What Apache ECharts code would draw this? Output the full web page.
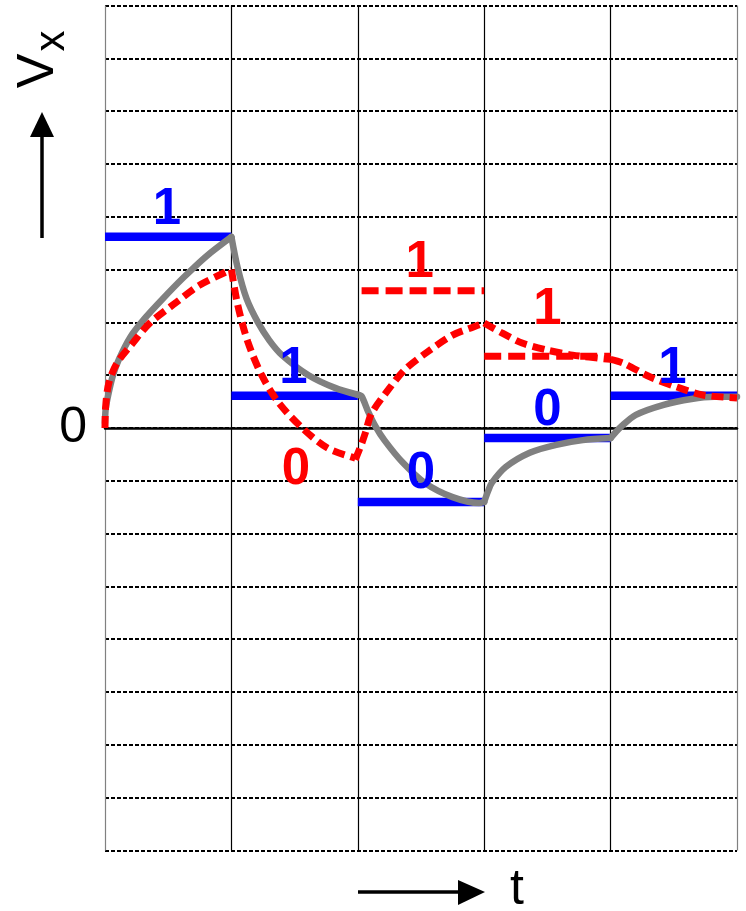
<!DOCTYPE html>
<html lang="en">
<head>
    <meta charset="UTF-8">
    <title>Vx</title>
</head>
<body style="margin:0">
    <div id="chart" style="width: 746px; height: 911px"></div>
    <script src="https://cdn.jsdelivr.net/npm/echarts@6/dist/echarts.min.js"></script>
    <script>
        // bit periods (x = bit index) and drive levels
        const blueLevels = [
            [[0, 3.62], [1, 3.62]],
            [[1, 0.61], [2, 0.61]],
            [[2, -1.4], [3, -1.4]],
            [[3, -0.19], [4, -0.19]],
            [[4, 0.61], [5, 0.61]]
        ];
        const redLevels = [
            [[2.03, 2.6], [3, 2.6]],
            [[3, 1.36], [4, 1.36]]
        ];
        // gray line, one piece per bit
        const grayCurve = [
            [[0, 0.1], [0.005, 0.35], [0.025, 0.62], [0.063, 1.0], [0.11, 1.3], [0.2, 1.72], [0.316, 2.08], [0.45, 2.43], [0.617, 2.84], [0.8, 3.25], [1, 3.62]],
            [[1, 3.62], [1.05, 3.03], [1.12, 2.45], [1.21, 2.0], [1.30, 1.66], [1.40, 1.38], [1.61, 1.0], [1.82, 0.76], [2, 0.63]],
            [[2, 0.63], [2.03, 0.6], [2.08, 0.32], [2.14, 0.03], [2.21, -0.23], [2.35, -0.64], [2.53, -1.04], [2.75, -1.31], [2.96, -1.42], [3, -1.4]],
            [[3, -1.4], [3.03, -1.2], [3.06, -1.04], [3.17, -0.74], [3.36, -0.47], [3.57, -0.32], [3.78, -0.23], [4, -0.19]],
            [[4, -0.19], [4.04, -0.08], [4.08, 0.02], [4.2, 0.25], [4.42, 0.44], [4.64, 0.55], [4.82, 0.59], [5, 0.59]]
        ];
        // red dashed line, one piece per bit
        const redCurve = [
            [[0, 0], [0.005, 0.4], [0.03, 0.85], [0.095, 1.23], [0.22, 1.61], [0.356, 1.99], [0.57, 2.39], [0.75, 2.71], [1, 3.0]],
            [[1, 3.0], [1.05, 2.33], [1.13, 1.63], [1.24, 1.0], [1.37, 0.49], [1.56, 0.0], [1.76, -0.38], [1.98, -0.57]],
            [[1.98, -0.6], [2.03, -0.3], [2.06, -0.09], [2.11, 0.28], [2.24, 0.72], [2.37, 1.1], [2.55, 1.44], [2.75, 1.76], [2.91, 1.91], [3, 1.99]],
            [[3, 1.99], [3.14, 1.8], [3.3, 1.61], [3.49, 1.48], [3.7, 1.38], [4, 1.3]],
            [[4, 1.3], [4.1, 1.23], [4.31, 0.97], [4.52, 0.78], [4.73, 0.625], [5, 0.57]]
        ];
        const blueLabels = [[0.49, 4.13, '1'], [1.49, 1.12, '1'], [2.5, -0.87, '0'], [3.5, 0.32, '0'], [4.49, 1.12, '1']];
        const redLabels = [[1.51, -0.8, '0'], [2.49, 3.12, '1'], [3.5, 2.23, '1']];

        const series = [];
        blueLevels.forEach(seg => {
            series.push({ type: 'line', data: seg, symbol: 'none', lineStyle: { color: '#0000ff', width: 8.5 }, z: 2 });
        });
        grayCurve.forEach(seg => {
            series.push({ type: 'line', data: seg, symbol: 'none', smooth: 0.3,
                lineStyle: { color: '#808080', width: 6.5, cap: 'round' }, z: 3 });
        });
        redLevels.forEach(seg => {
            series.push({ type: 'line', data: seg, symbol: 'none', lineStyle: { color: '#ff0000', width: 7, type: [17, 7] }, z: 4 });
        });
        redCurve.forEach(seg => {
            series.push({ type: 'line', data: seg, symbol: 'none', smooth: 0.3,
                lineStyle: { color: '#ff0000', width: 7, type: [12, 6] }, z: 5 });
        });
        const labelSeries = (data, color) => ({
            type: 'scatter', data: data, symbolSize: 0, z: 6,
            itemStyle: { opacity: 1 },
            label: {
                show: true, position: 'inside', formatter: p => p.data[2], opacity: 1,
                color: color, fontSize: 51, fontWeight: 'bold', fontFamily: 'Liberation Sans'
            }
        });
        series.push(labelSeries(blueLabels, '#0000ff'));
        series.push(labelSeries(redLabels, '#ff0000'));

        const option = {
            animation: false,
            grid: { left: 105, right: 9, top: 5.6, bottom: 60.6 },
            xAxis: {
                type: 'value', min: 0, max: 5, interval: 1,
                axisLine: { show: true, onZero: true, lineStyle: { color: '#000', width: 2.5 } },
                axisTick: { show: false },
                axisLabel: { show: false },
                splitLine: { show: true, lineStyle: { color: ['#808080', '#000', '#000', '#000', '#000', '#808080'], width: 1.2 } }
            },
            yAxis: {
                type: 'value', min: -8, max: 8, interval: 1,
                axisLine: { show: false },
                axisTick: { show: false },
                axisLabel: {
                    formatter: v => (v === 0 ? '0' : ''),
                    color: '#000', fontSize: 50, fontFamily: 'Liberation Sans', margin: 18
                },
                splitLine: { show: true, lineStyle: { color: '#000', width: 2, type: [4, 2] } }
            },
            graphic: [
                { type: 'text', x: 39, y: 71, rotation: Math.PI / 2,
                  style: { text: 'V', fontSize: 52, fontFamily: 'Liberation Sans', fill: '#000', align: 'center', verticalAlign: 'middle' } },
                { type: 'text', x: 52, y: 41, rotation: Math.PI / 2,
                  style: { text: 'x', fontSize: 42, fontFamily: 'Liberation Sans', fill: '#000', align: 'center', verticalAlign: 'middle' } },
                { type: 'line', shape: { x1: 42, y1: 238, x2: 42, y2: 132 }, style: { stroke: '#000', lineWidth: 3.5 } },
                { type: 'polygon', shape: { points: [[42, 112], [30, 137], [54, 137]] }, style: { fill: '#000' } },
                { type: 'line', shape: { x1: 358, y1: 892, x2: 465, y2: 892 }, style: { stroke: '#000', lineWidth: 3.5 } },
                { type: 'polygon', shape: { points: [[485, 892], [458, 880], [458, 905]] }, style: { fill: '#000' } },
                { type: 'text', x: 517, y: 890,
                  style: { text: 't', fontSize: 50, fontFamily: 'Liberation Sans', fill: '#000', align: 'center', verticalAlign: 'middle' } }
            ],
            series: series
        };

        const chart = echarts.init(document.getElementById('chart'));
        chart.setOption(option);
    </script>
</body>
</html>
